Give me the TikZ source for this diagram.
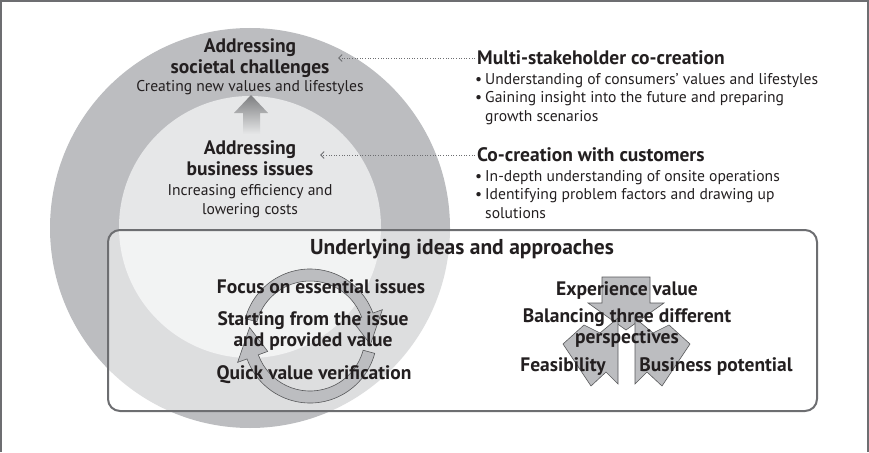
\documentclass[tikz,border=0pt]{standalone}
\usepackage{fontspec}
\setmainfont{PT Sans}
\usetikzlibrary{arrows.meta}
\definecolor{ringout}{RGB}{188,189,192}
\definecolor{ringin}{RGB}{230,231,232}
\definecolor{lineg}{RGB}{109,110,113}
\definecolor{inkc}{RGB}{35,31,32}
\definecolor{shapeg}{RGB}{188,189,192}
\definecolor{edgeg}{RGB}{88,89,91}
\definecolor{arrowg}{RGB}{125,126,128}
\begin{document}
\begin{tikzpicture}[x=1pt,y=-1pt,
    headtxt/.style={inner sep=0pt,align=center,text=inkc,font=\fontsize{19.5}{21}\selectfont\bfseries},
    bodytxt/.style={inner sep=0pt,align=center,text=inkc,font=\fontsize{15.6}{19}\selectfont},
    listtxt/.style={inner sep=0pt,align=left,text=inkc,font=\fontsize{15.6}{18.5}\selectfont},
    linkarrow/.style={lineg,line width=0.9pt,dash pattern=on 0.9pt off 1.7pt,
      -{Straight Barb[length=3.5pt,width=7pt]},shorten <=2pt},
    cyclearrow/.style={fill=shapeg,draw=edgeg,line width=0.6pt}]
  \useasboundingbox (0,0) rectangle (869,452);
  % frame
  \draw[lineg,line width=1.2pt] (1,452) -- (1,1) -- (868,1) -- (868,452);
  % the two circles
  \fill[ringout] (250,228) circle (200pt);
  \fill[ringin] (250,227) circle (131pt);
  \shade[top color=arrowg,bottom color=ringin] (251,95) -- (268,113) -- (260,113)
    -- (260,134) -- (243,134) -- (243,113) -- (234,113) -- cycle;
  % box of ideas
  \draw[lineg,line width=2pt,fill=white,fill opacity=0.5,rounded corners=12pt]
    (108,230) rectangle (817,411);
  % cycle
  \begin{scope}[shift={(310,336)},y=1pt]
    \draw[cyclearrow] (165:67) arc[start angle=165,end angle=20,radius=67]
      -- (20:77) -- (-8:61) -- (20:45) -- (20:55)
      arc[start angle=20,end angle=165,radius=55] -- cycle;
    \draw[cyclearrow] (345:67) arc[start angle=345,end angle=200,radius=67]
      -- (200:77) -- (172:61) -- (200:45) -- (200:55)
      arc[start angle=200,end angle=345,radius=55] -- cycle;
  \end{scope}
  % three perspectives
  \draw[cyclearrow] (602,277) -- (650,277) -- (650,303) -- (664,303) -- (626,330)
    -- (588,303) -- (602,303) -- cycle;
  \draw[cyclearrow] (618,318) -- (618,384) -- (606,372) -- (591,386) -- (563,344)
    -- (584,325) -- (600,333) -- cycle;
  \draw[cyclearrow] (635,318) -- (635,384) -- (647,372) -- (662,386) -- (690,344)
    -- (669,325) -- (653,333) -- cycle;

  % circle texts
  \node[headtxt] (soc) at (250,58) {Addressing\\societal challenges};
  \node[bodytxt] (socsub) at (250,88) {Creating new values and lifestyles};
  \node[headtxt] (bus) at (250,158) {Addressing\\business issues};
  \node[bodytxt] (bussub) at (250,201) {Increasing efficiency and\\lowering costs};
  \coordinate (socTip) at (338,58);
  \coordinate (busTip) at (320,155);

  % right texts
  \node[headtxt,anchor=west] (multi) at (477,58) {Multi-stakeholder co-creation};
  \node[listtxt,anchor=north west] (multilist) at (475,73)
    {\makebox[10pt][l]{•}Understanding of consumers’ values and lifestyles\\
     \makebox[10pt][l]{•}Gaining insight into the future and preparing\\
     \hspace*{10pt}growth scenarios};
  \node[headtxt,anchor=west] (cust) at (477,155) {Co-creation with customers};
  \node[listtxt,anchor=north west] (custlist) at (475,170)
    {\makebox[10pt][l]{•}In-depth understanding of onsite operations\\
     \makebox[10pt][l]{•}Identifying problem factors and drawing up\\
     \hspace*{10pt}solutions};
  \draw[linkarrow] (multi.west) -- (socTip);
  \draw[linkarrow] (cust.west) -- (busTip);

  % box texts
  \node[headtxt,font=\fontsize{21.5}{24}\selectfont\bfseries] (ideas) at (462,249)
    {Underlying ideas and approaches};
  \node[headtxt] (focus) at (321,287) {Focus on essential issues};
  \node[headtxt] (start) at (313,331) {Starting from the issue\\and provided value};
  \node[headtxt] (quick) at (314,375) {Quick value verification};
  \node[headtxt] (exper) at (627,291) {Experience value};
  \node[headtxt] (balance) at (627,328) {Balancing three different\\perspectives};
  \node[headtxt] (feas) at (563,367) {Feasibility};
  \node[headtxt] (busin) at (716,367) {Business potential};
\end{tikzpicture}
\end{document}
